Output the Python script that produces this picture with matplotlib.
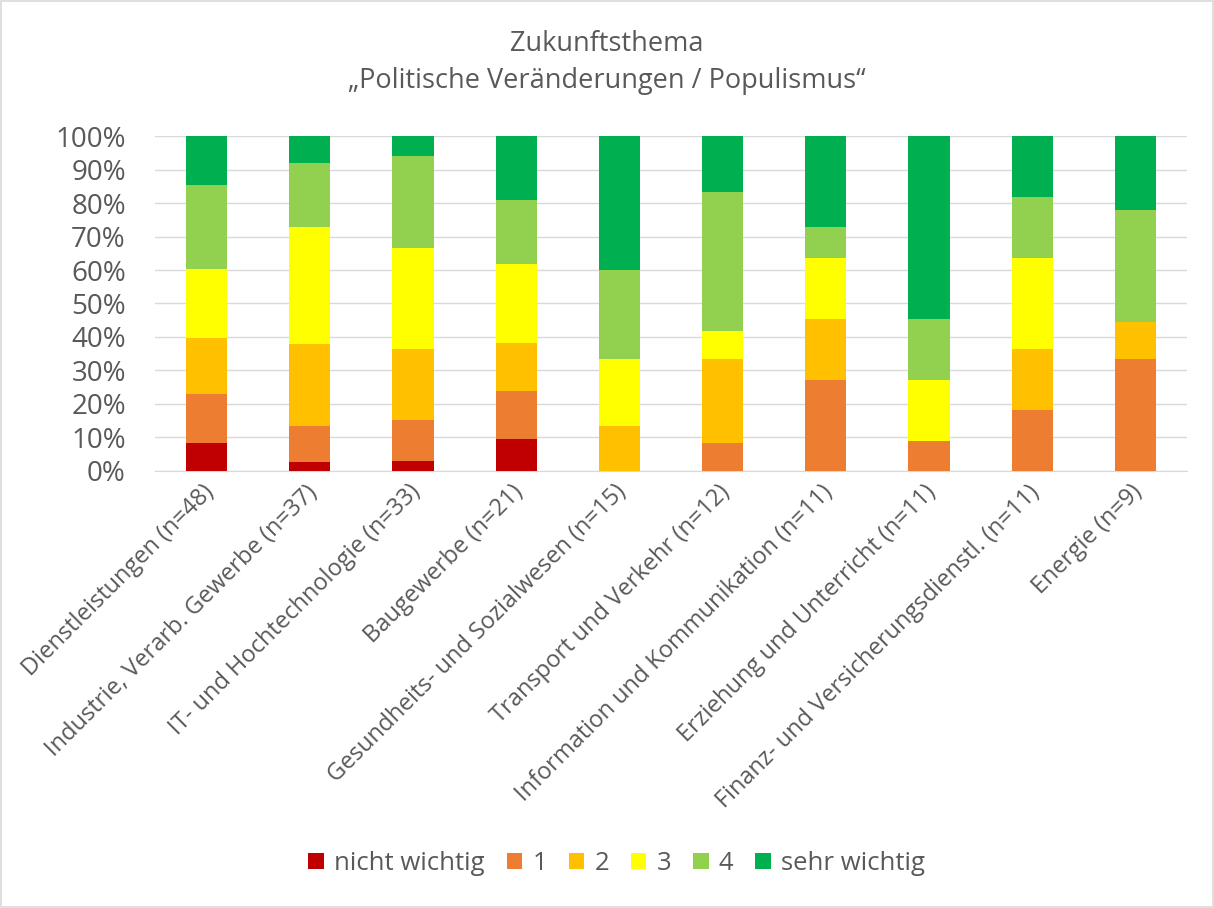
import matplotlib
matplotlib.use("Agg")
import matplotlib.pyplot as plt
import matplotlib.transforms as mtransforms
import numpy as np
from matplotlib.patches import Rectangle

categories = ["Dienstleistungen (n=48)", "Industrie, Verarb. Gewerbe (n=37)",
              "IT- und Hochtechnologie (n=33)", "Baugewerbe (n=21)",
              "Gesundheits- und Sozialwesen (n=15)", "Transport und Verkehr (n=12)",
              "Information und Kommunikation (n=11)", "Erziehung und Unterricht (n=11)",
              "Finanz- und Versicherungsdienstl. (n=11)", "Energie (n=9)"]
n_total = [48, 37, 33, 21, 15, 12, 11, 11, 11, 9]
series_names = ["nicht wichtig", "1", "2", "3", "4", "sehr wichtig"]
counts_nicht = [4, 1, 1, 2, 0, 0, 0, 0, 0, 0]
counts_1 = [7, 4, 4, 3, 0, 1, 3, 1, 2, 3]
counts_2 = [8, 9, 7, 3, 2, 3, 2, 0, 2, 1]
counts_3 = [10, 13, 10, 5, 3, 1, 2, 2, 3, 0]
counts_4 = [12, 7, 9, 4, 4, 5, 1, 2, 2, 3]
counts_sehr = [7, 3, 2, 4, 6, 2, 3, 6, 2, 2]
colors = ["#C00000", "#ED7D31", "#FFC000", "#FFFF00", "#92D050", "#00B050"]
title = "Zukunftsthema\n\u201ePolitische Ver\u00e4nderungen / Populismus\u201c"

plt.rcParams['font.family'] = ['Open Sans', 'DejaVu Sans']

fig = plt.figure(figsize=(12.14, 9.08), dpi=100)
ax = fig.add_axes([0.1277, 0.4813, 0.8501, 0.3689])

series = [counts_nicht, counts_1, counts_2, counts_3, counts_4, counts_sehr]
x = np.arange(len(categories))
bottom = np.zeros(len(categories))
tot = np.array(n_total, dtype=float)
for name, vals, c in zip(series_names, series, colors):
    v = np.array(vals) / tot
    ax.bar(x, v, bottom=bottom, width=0.4, color=c, label=name, zorder=3)
    bottom += v

ax.set_xlim(-0.5, len(categories) - 0.5)
ax.set_ylim(0, 1)
ax.set_yticks(np.arange(0, 1.01, 0.1))
ax.set_yticklabels([f"{int(round(t*100))}%" for t in np.arange(0, 1.01, 0.1)],
                   fontsize=20, color="#595959")
ax.set_xticks(x)
ax.set_xticklabels(categories, rotation=45, ha='right', rotation_mode='anchor',
                   fontsize=17, color="#595959")
ax.tick_params(axis='y', length=0, pad=21)
ax.tick_params(axis='x', length=0, pad=3)
offset = mtransforms.ScaledTranslation(-5 / 100, -5 / 100, fig.dpi_scale_trans)
for lbl in ax.get_xticklabels():
    lbl.set_transform(lbl.get_transform() + offset)
ax.yaxis.grid(True, color="#D9D9D9", linewidth=1, zorder=0)
for s in ['top', 'right', 'left']:
    ax.spines[s].set_visible(False)
ax.spines['bottom'].set_color("#D9D9D9")

fig.text(0.5, 0.931, title, ha='center', va='center', fontsize=19.5,
         color="#595959", linespacing=1.45)

handles, labels = ax.get_legend_handles_labels()
fig.legend(handles, labels, loc='center', bbox_to_anchor=(0.508, 0.049), ncol=6,
           frameon=False, fontsize=18.5, handlelength=0.6, handleheight=0.6,
           columnspacing=0.85, handletextpad=0.4, labelcolor="#595959")

fig.patches.append(Rectangle((0.001, 0.001), 0.998, 0.998, transform=fig.transFigure,
                             fill=False, edgecolor="#D9D9D9", linewidth=1.2))

fig.savefig("out.png", dpi=100, facecolor="white")
